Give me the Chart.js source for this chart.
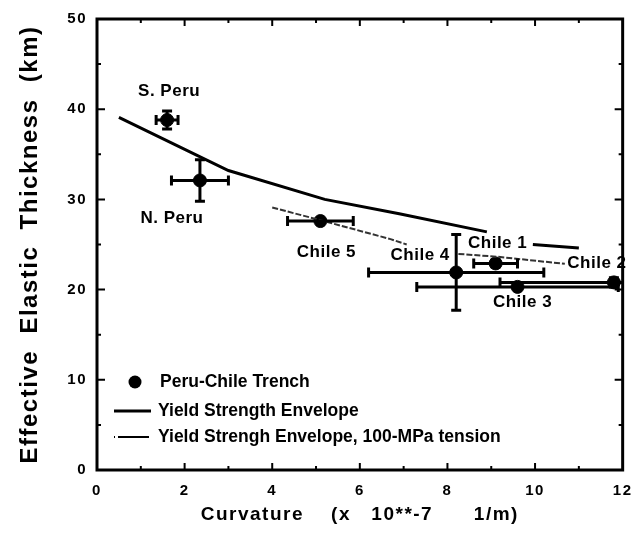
<!DOCTYPE html>
<html>
<head>
<meta charset="utf-8">
<script src="https://cdn.jsdelivr.net/npm/chart.js@4/dist/chart.umd.min.js"></script>
<style>
  html, body { margin: 0; padding: 0; background: #fff; }
  #wrap { width: 643px; height: 544px; }
</style>
</head>
<body>
<div id="wrap"><canvas id="te" width="643" height="544"></canvas></div>
<script>
// Flexural estimates along the Peru-Chile trench
const siteNames = ['S. Peru', 'N. Peru', 'Chile 5', 'Chile 4', 'Chile 1', 'Chile 2', 'Chile 3'];
const curvature = [1.6, 2.35, 5.1, 8.2, 9.1, 11.8, 9.6];
const thickness = [38.8, 32.1, 27.6, 21.9, 22.9, 20.8, 20.3];
const curvatureErr = [0.25, 0.65, 0.75, 2.0, 0.5, 2.6, 2.3];
const thicknessErr = [1.0, 2.3, 0, 4.2, 0.4, 0.5, 0];

// Yield strength envelope (gap where the Chile 1 label sits)
const envCurv = [0.5, 3.0, 5.2, 6.9, 8.9, 9.4, 9.95, 11.0];
const envTe = [39.1, 33.2, 30.0, 28.4, 26.4, null, 25.0, 24.6];

// Envelope with 100-MPa tension (gap under the Chile 4 label)
const tenCurv = [4.0, 5.1, 6.7, 7.07, 7.6, 8.25, 9.16, 10.68];
const tenTe = [29.1, 27.7, 25.6, 25.0, null, 23.96, 23.63, 22.86];

const xTicks = [0, 2, 4, 6, 8, 10, 12];
const yTicks = [0, 10, 20, 30, 40, 50];

// label offsets from each point, in px
const labelOffsets = [[2, -29], [-28, 38], [6, 31], [-36, -17], [2, -20], [-17, -19], [5, 15]];

const FONT = '"Liberation Sans", Arial, Helvetica, sans-serif';

function pairs(xs, ys) {
    return xs.map(function (x, i) { return { x: x, y: ys[i] }; });
}

// wide tracking for the axis text
const trackingPlugin = {
    id: 'tracking',
    beforeDraw: function (chart) {
        chart.ctx.letterSpacing = '1.5px';
    }
};

const framePlugin = {
    id: 'frame',
    afterDatasetsDraw: function (chart) {
        const ctx = chart.ctx;
        const a = chart.chartArea;
        const xs = chart.scales.x;
        const ys = chart.scales.y;

        // error bars
        ctx.save();
        ctx.beginPath();
        ctx.rect(a.left, a.top, a.right - a.left, a.bottom - a.top);
        ctx.clip();
        ctx.strokeStyle = '#000';
        ctx.lineWidth = 3;
        const cap = 5;
        curvature.forEach(function (cx, i) {
            const px = xs.getPixelForValue(cx);
            const py = ys.getPixelForValue(thickness[i]);
            if (curvatureErr[i]) {
                const x0 = xs.getPixelForValue(cx - curvatureErr[i]);
                const x1 = xs.getPixelForValue(cx + curvatureErr[i]);
                ctx.beginPath();
                ctx.moveTo(x0, py); ctx.lineTo(x1, py);
                ctx.moveTo(x0, py - cap); ctx.lineTo(x0, py + cap);
                ctx.moveTo(x1, py - cap); ctx.lineTo(x1, py + cap);
                ctx.stroke();
            }
            if (thicknessErr[i]) {
                const y0 = ys.getPixelForValue(thickness[i] - thicknessErr[i]);
                const y1 = ys.getPixelForValue(thickness[i] + thicknessErr[i]);
                ctx.beginPath();
                ctx.moveTo(px, y0); ctx.lineTo(px, y1);
                ctx.moveTo(px - cap, y0); ctx.lineTo(px + cap, y0);
                ctx.moveTo(px - cap, y1); ctx.lineTo(px + cap, y1);
                ctx.stroke();
            }
        });
        ctx.restore();

        // point labels
        ctx.save();
        ctx.letterSpacing = '0.5px';
        ctx.fillStyle = '#000';
        ctx.font = 'bold 17px ' + FONT;
        ctx.textAlign = 'center';
        ctx.textBaseline = 'middle';
        siteNames.forEach(function (name, i) {
            const px = xs.getPixelForValue(curvature[i]) + labelOffsets[i][0];
            const py = ys.getPixelForValue(thickness[i]) + labelOffsets[i][1];
            ctx.fillText(name, px, py);
        });
        ctx.restore();

        // frame with inward ticks on all four sides
        ctx.save();
        ctx.strokeStyle = '#000';
        ctx.lineWidth = 3;
        ctx.strokeRect(a.left, a.top, a.right - a.left, a.bottom - a.top);
        ctx.lineWidth = 2;
        ctx.beginPath();
        for (let v = 1; v < 12; v++) {
            const len = v % 2 === 0 ? 7 : 4;
            const px = xs.getPixelForValue(v);
            ctx.moveTo(px, a.bottom); ctx.lineTo(px, a.bottom - len);
            ctx.moveTo(px, a.top); ctx.lineTo(px, a.top + len);
        }
        for (let v = 5; v < 50; v += 5) {
            const len = v % 10 === 0 ? 8 : 4;
            const py = ys.getPixelForValue(v);
            ctx.moveTo(a.left, py); ctx.lineTo(a.left + len, py);
            ctx.moveTo(a.right, py); ctx.lineTo(a.right - len, py);
        }
        ctx.stroke();
        ctx.restore();

        // legend
        const lx = a.left;
        const rows = [a.bottom - 88, a.bottom - 59, a.bottom - 33];
        ctx.save();
        ctx.letterSpacing = '0px';
        ctx.fillStyle = '#000';
        ctx.strokeStyle = '#000';
        ctx.beginPath();
        ctx.arc(lx + 38, rows[0], 6.5, 0, Math.PI * 2);
        ctx.fill();
        ctx.lineWidth = 3;
        ctx.beginPath();
        ctx.moveTo(lx + 17, rows[1]); ctx.lineTo(lx + 54, rows[1]);
        ctx.stroke();
        ctx.lineWidth = 2;
        ctx.setLineDash([1, 3, 30, 0]);
        ctx.beginPath();
        ctx.moveTo(lx + 17, rows[2]); ctx.lineTo(lx + 54, rows[2]);
        ctx.stroke();
        ctx.setLineDash([]);
        ctx.font = 'bold 17.5px ' + FONT;
        ctx.textBaseline = 'middle';
        ctx.fillText('Peru-Chile Trench', lx + 63, rows[0]);
        ctx.fillText('Yield Strength Envelope', lx + 61, rows[1]);
        ctx.fillText('Yield Strengh Envelope, 100-MPa tension', lx + 61, rows[2]);
        ctx.restore();
    }
};

new Chart(document.getElementById('te'), {
    type: 'scatter',
    data: {
        datasets: [
            {
                label: 'Yield Strength Envelope',
                type: 'line',
                data: pairs(envCurv, envTe),
                borderColor: '#000',
                borderWidth: 3,
                pointRadius: 0,
                tension: 0,
                spanGaps: false,
                fill: false
            },
            {
                label: 'Yield Strengh Envelope, 100-MPa tension',
                type: 'line',
                data: pairs(tenCurv, tenTe),
                borderColor: '#333',
                borderWidth: 2,
                borderDash: [6, 2],
                pointRadius: 0,
                tension: 0,
                spanGaps: false,
                fill: false
            },
            {
                label: 'Peru-Chile Trench',
                data: pairs(curvature, thickness),
                backgroundColor: '#000',
                borderColor: '#000',
                pointRadius: 6.5,
                pointHoverRadius: 6.5
            }
        ]
    },
    options: {
        responsive: false,
        animation: false,
        events: [],
        layout: { padding: { top: 15, right: 18, left: 0, bottom: 0 } },
        plugins: {
            legend: { display: false },
            tooltip: { enabled: false }
        },
        scales: {
            x: {
                type: 'linear',
                min: 0,
                max: 12,
                afterBuildTicks: function (scale) {
                    scale.ticks = xTicks.map(function (v) { return { value: v }; });
                },
                ticks: {
                    color: '#000',
                    padding: 12,
                    maxRotation: 0,
                    font: { family: FONT, size: 15, weight: 'bold' }
                },
                grid: { display: false, drawTicks: false },
                border: { display: false },
                title: {
                    display: true,
                    text: 'Curvature    (x   10**-7      1/m)',
                    color: '#000',
                    font: { family: FONT, size: 19, weight: 'bold' },
                    padding: { top: 0, bottom: 18 }
                },
                afterFit: function (scale) { scale.height = 74; }
            },
            y: {
                min: 0,
                max: 50,
                afterBuildTicks: function (scale) {
                    scale.ticks = yTicks.map(function (v) { return { value: v }; });
                },
                ticks: {
                    color: '#000',
                    padding: 10,
                    font: { family: FONT, size: 15, weight: 'bold' }
                },
                grid: { display: false, drawTicks: false },
                border: { display: false },
                title: {
                    display: true,
                    text: 'Effective  Elastic  Thickness  (km)',
                    color: '#000',
                    font: { family: FONT, size: 24, weight: 'bold' },
                    padding: { top: 16, bottom: 0 }
                },
                afterFit: function (scale) { scale.width = 97; }
            }
        }
    },
    plugins: [trackingPlugin, framePlugin]
});
</script>
</body>
</html>
